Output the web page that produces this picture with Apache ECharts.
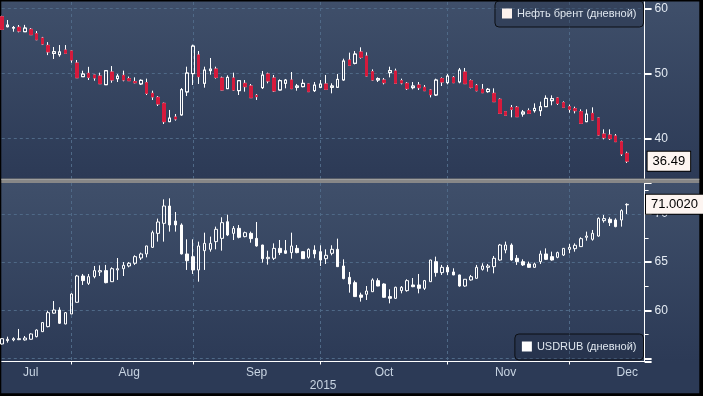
<!DOCTYPE html>
<html>
<head>
<meta charset="utf-8">
<script src="https://cdn.jsdelivr.net/npm/echarts@6/dist/echarts.min.js"></script>
<style>html,body{margin:0;padding:0;background:#000;}#c{width:703px;height:396px;}</style>
</head>
<body>
<div id="c"></div>
<script>
// Trading days (3 empty padding days at the end)
const dates = [
'2015-07-16','2015-07-17','2015-07-20','2015-07-21','2015-07-22','2015-07-23','2015-07-24','2015-07-27','2015-07-28','2015-07-29','2015-07-30','2015-07-31',
'2015-08-03','2015-08-04','2015-08-05','2015-08-06','2015-08-07','2015-08-10','2015-08-11','2015-08-12','2015-08-13','2015-08-14','2015-08-17','2015-08-18','2015-08-19','2015-08-20','2015-08-21','2015-08-24','2015-08-25','2015-08-26','2015-08-27','2015-08-28','2015-08-31',
'2015-09-01','2015-09-02','2015-09-03','2015-09-04','2015-09-07','2015-09-08','2015-09-09','2015-09-10','2015-09-11','2015-09-14','2015-09-15','2015-09-16','2015-09-17','2015-09-18','2015-09-21','2015-09-22','2015-09-23','2015-09-24','2015-09-25','2015-09-28','2015-09-29','2015-09-30',
'2015-10-01','2015-10-02','2015-10-05','2015-10-06','2015-10-07','2015-10-08','2015-10-09','2015-10-12','2015-10-13','2015-10-14','2015-10-15','2015-10-16','2015-10-19','2015-10-20','2015-10-21','2015-10-22','2015-10-23','2015-10-26','2015-10-27','2015-10-28','2015-10-29','2015-10-30',
'2015-11-02','2015-11-03','2015-11-04','2015-11-05','2015-11-06','2015-11-09','2015-11-10','2015-11-11','2015-11-12','2015-11-13','2015-11-16','2015-11-17','2015-11-18','2015-11-19','2015-11-20','2015-11-23','2015-11-24','2015-11-25','2015-11-26','2015-11-27','2015-11-30',
'2015-12-01','2015-12-02','2015-12-03','2015-12-04','2015-12-07','2015-12-08','2015-12-09','2015-12-10','2015-12-11','2015-12-14','2015-12-15',
'2015-12-16','2015-12-17','2015-12-18'
];
const tickLabels = ['Jul','Aug','Sep','Oct','Nov','Dec'];
const tickLabelDates = ['2015-07-23','2015-08-17','2015-09-16','2015-10-16','2015-11-16','2015-12-15'];
const yearLabel = '2015';

const brentName = 'Нефть брент (дневной)';
const rubName = 'USDRUB (дневной)';

const brentOpen = [58.71,57.17,56.95,57.08,56.40,56.77,56.10,55.43,54.30,53.05,
52.86,53.58,53.43,51.58,49.48,50.00,49.74,49.58,48.25,50.20,
49.17,49.69,49.18,48.72,48.36,48.56,46.92,46.30,45.38,42.56,
43.28,43.59,47.13,49.95,52.82,48.46,50.41,50.66,49.28,47.64,
49.28,47.33,48.46,48.05,46.61,47.79,49.90,49.28,47.43,48.46,
48.97,47.85,47.95,48.36,47.33,47.85,48.36,47.85,47.85,48.97,
52.05,51.54,53.28,52.66,50.25,48.97,48.97,50.10,50.36,48.87,
48.46,47.79,48.20,47.85,47.43,46.66,49.18,48.56,49.38,48.66,
50.20,48.87,48.15,47.54,47.18,46.92,46.00,44.10,44.72,44.77,
43.74,44.25,44.25,44.25,44.87,45.79,46.20,45.49,44.87,44.56,
44.10,42.56,43.84,43.13,40.66,40.51,40.36,39.49,37.69];
const brentHigh = [58.85,58.20,57.28,57.43,57.45,56.97,56.50,55.60,54.80,54.05,
54.35,54.35,53.45,52.05,50.40,51.00,49.76,50.10,50.50,51.12,
49.90,50.41,49.50,49.38,49.07,49.18,47.33,46.51,45.49,44.36,
43.74,47.74,51.02,54.41,53.43,51.02,52.36,51.02,49.49,49.69,
50.10,48.97,48.97,48.36,46.82,50.36,50.10,49.74,49.07,49.13,
50.20,48.36,49.07,48.40,48.66,48.97,49.74,48.46,49.90,52.25,
53.18,53.43,54.00,53.23,50.61,49.38,49.28,51.02,50.72,49.18,
48.66,48.66,48.66,48.20,47.54,49.18,49.38,49.90,49.59,50.82,
50.82,49.07,48.36,48.36,47.74,47.69,46.15,44.15,45.13,44.97,
44.36,44.61,45.38,45.64,46.61,46.61,46.30,45.69,45.18,44.87,
44.46,44.46,44.77,43.20,41.38,41.38,40.66,39.64,37.95];
const brentLow = [56.70,57.08,56.40,56.30,56.40,55.90,55.10,54.35,52.80,52.20,
52.55,53.00,51.63,49.32,49.45,48.97,48.86,48.40,48.20,48.55,
48.66,48.77,48.82,48.46,48.20,46.66,45.90,44.97,42.20,42.50,
42.72,43.50,46.51,48.20,48.36,47.79,49.79,49.18,47.40,47.60,
47.33,46.66,47.18,46.20,45.90,47.59,48.46,47.13,47.40,47.69,
47.60,47.33,47.85,47.15,47.13,47.80,47.50,46.92,47.80,48.87,
51.20,51.38,52.25,49.55,48.87,48.66,48.30,49.38,48.40,48.30,
47.43,47.54,47.43,47.30,46.30,46.51,48.05,48.30,48.50,48.46,
48.40,47.69,47.23,47.00,47.02,45.60,43.74,43.43,43.23,43.30,
43.33,43.80,43.95,43.43,44.85,45.08,45.13,44.66,43.95,43.84,
42.30,42.50,42.80,40.45,39.84,39.74,39.45,37.28,36.20];
const brentClose = [56.76,57.43,57.05,56.50,56.97,55.94,55.17,54.50,53.30,53.32,
53.30,53.07,52.05,49.32,49.90,49.38,49.28,48.40,50.40,48.97,
49.58,48.97,48.87,48.56,48.92,46.92,46.36,45.28,42.56,43.13,
42.97,47.49,50.05,54.20,49.49,50.51,50.66,49.38,47.43,49.38,
47.43,48.87,47.95,46.25,46.41,49.74,48.82,47.28,48.87,48.97,
47.64,48.05,48.46,47.18,48.20,48.36,47.54,48.05,49.07,51.90,
51.23,52.97,52.46,49.59,48.97,49.18,48.56,50.41,48.46,48.51,
47.64,48.05,47.79,47.33,46.72,48.97,48.66,49.59,48.56,50.51,
48.41,47.85,47.33,47.02,47.54,45.64,43.84,43.54,44.46,43.33,
44.05,43.84,44.61,44.87,46.15,46.10,45.38,44.77,44.46,44.25,
42.31,43.74,42.82,40.51,40.10,39.95,39.49,37.59,36.49];

const rubOpen = [56.50,56.85,56.92,56.95,56.92,56.99,57.26,57.78,58.30,59.70,
60.03,58.58,59.62,60.83,63.56,62.80,63.49,63.98,64.12,62.97,
64.19,64.32,64.60,64.88,65.43,65.85,66.54,67.99,69.03,70.83,
69.27,68.86,65.85,65.57,64.19,66.19,66.33,67.13,67.47,69.20,
67.99,68.51,67.65,67.99,67.47,66.78,65.36,65.40,66.43,66.19,
65.99,66.43,66.09,65.50,66.26,66.09,65.36,65.92,66.33,64.60,
63.42,62.87,61.59,61.66,61.93,63.08,62.73,61.42,61.24,62.04,
62.04,62.63,62.63,62.28,62.97,65.05,63.91,64.46,63.98,63.67,
62.52,63.15,63.32,64.25,64.46,64.53,65.22,66.26,66.78,65.40,
65.05,64.81,64.46,65.05,65.85,65.57,65.50,65.74,66.33,66.40,
66.61,67.58,67.37,67.71,69.31,69.45,69.38,69.38,70.95];
const rubHigh = [57.10,57.26,57.19,58.06,57.33,57.60,58.02,58.75,59.96,60.96,
60.31,59.82,61.76,63.67,63.77,63.77,64.60,64.67,64.71,64.46,
65.43,65.01,65.01,65.71,65.99,66.70,68.27,69.52,71.52,71.63,
70.21,69.03,67.37,67.37,67.13,68.06,67.65,68.69,69.66,69.93,
68.75,68.86,68.17,68.17,69.17,66.80,66.19,66.95,67.30,67.30,
68.06,66.78,66.12,66.43,66.75,66.75,66.33,66.75,67.44,65.29,
63.98,63.08,61.83,62.52,63.32,63.32,62.80,62.18,62.45,62.52,
63.22,63.35,63.77,63.15,65.25,65.57,64.71,64.71,64.36,63.70,
63.25,63.67,64.71,64.88,64.81,65.64,66.89,67.13,66.95,65.74,
65.29,65.05,64.95,66.19,66.43,66.09,66.09,66.46,66.89,66.95,
67.58,68.17,68.34,69.66,69.90,69.66,69.55,70.49,71.11];
const rubLow = [56.45,56.64,56.78,56.90,56.85,56.95,57.19,57.75,58.23,59.65,
58.58,58.55,59.60,60.80,62.63,62.63,63.32,63.56,62.80,62.95,
63.15,63.56,64.46,64.71,65.22,65.50,66.47,67.13,67.13,68.17,
68.17,65.80,64.19,63.77,62.97,64.19,66.09,66.33,66.19,67.71,
67.30,67.47,67.58,67.02,66.61,64.95,64.74,65.22,65.74,65.85,
65.36,65.92,65.33,65.36,65.40,64.60,64.81,65.71,64.50,63.22,
61.83,61.40,60.90,61.07,61.90,62.50,61.30,60.72,61.20,61.76,
61.93,62.40,61.76,62.11,62.95,63.49,63.67,63.67,63.65,62.45,
62.45,63.08,63.29,64.12,64.01,63.84,65.15,65.92,65.15,64.71,
64.60,64.43,64.43,64.81,65.22,65.15,65.40,65.64,65.92,66.09,
66.58,67.23,67.23,67.65,69.10,68.75,68.62,68.69,70.00];
const rubClose = [57.05,56.99,57.05,57.05,57.12,57.54,57.95,58.72,59.75,60.03,
58.65,59.75,61.69,63.56,63.08,63.49,64.12,64.12,62.87,64.32,
64.32,64.67,64.88,65.57,65.85,66.68,68.06,69.17,70.83,68.86,
68.86,65.85,65.15,64.19,66.68,66.95,66.95,68.41,69.10,67.82,
68.51,67.58,68.06,67.44,66.68,65.36,65.50,66.43,65.99,65.92,
66.68,65.99,65.36,66.33,65.85,65.22,65.71,66.33,64.53,63.29,
62.73,61.42,61.35,62.00,63.15,62.52,61.35,61.24,62.39,62.39,
63.08,62.45,62.28,63.08,65.22,63.91,64.46,63.98,63.67,62.52,
63.22,63.49,64.46,64.60,64.60,65.40,66.78,66.78,65.22,65.05,
64.71,64.46,64.81,65.85,65.29,65.22,65.99,66.43,66.54,66.75,
67.44,67.71,67.99,69.55,69.52,69.10,68.69,70.35,71.002];

// ---- build library data ----
const brentData = brentOpen.map((o, i) => [o, brentClose[i], brentLow[i], brentHigh[i]]);
const brentBodies = brentOpen.map((o, i) => [o, brentClose[i], Math.min(o, brentClose[i]), Math.max(o, brentClose[i])]);
const rubData = rubOpen.map((o, i) => [o, rubClose[i], rubLow[i], rubHigh[i]]);
const brentLast = brentClose[brentClose.length - 1];
const rubLast = rubClose[rubClose.length - 1];

const monthStart = new Set();
for (let i = 1; i < dates.length; i++) {
  if (dates[i].slice(0, 7) !== dates[i - 1].slice(0, 7)) monthStart.add(i);
}
const isMonthStart = (idx) => monthStart.has(idx);

const FONT = 'Liberation Sans, Arial, sans-serif';
const gridLine = { color: '#4f6987', type: [3, 3], width: 1 };
const RED = '#d61a3c';
const bgGrad = (a, b, stop) => ({
  type: 'linear', x: 0, y: 0, x2: 0, y2: 1,
  colorStops: [{ offset: 0, color: a }, { offset: stop, color: b }, { offset: 1, color: b }]
});

const legendBase = {
  orient: 'horizontal', right: 59.5, padding: [7, 7, 8, 7], itemWidth: 10, itemHeight: 10,
  selectedMode: false, backgroundColor: 'rgba(25,33,50,0.25)', borderColor: '#0c0f14',
  borderWidth: 1, borderRadius: 4,
  textStyle: { color: '#dfe6ee', fontSize: 11, fontFamily: FONT }
};

const pointerLabel = (digits) => ({
  show: true, margin: 3, backgroundColor: '#fdf5f1', color: '#000', borderColor: '#000',
  borderWidth: 1, borderRadius: 0, padding: [3, 5, 3, 5], fontSize: 13, fontFamily: FONT,
  formatter: (p) => Number(p.value).toFixed(digits)
});

const chart = echarts.init(document.getElementById('c'));
chart.setOption({
  backgroundColor: '#000',
  animation: false,
  textStyle: { fontFamily: FONT },
  graphic: [
    { type: 'rect', z: -100, silent: true, shape: { x: 1.3, y: 1.5, width: 698, height: 177.2 },
      style: { fill: bgGrad('#3f4f6a', '#2c3a56', 1) } },
    { type: 'rect', z: -100, silent: true, shape: { x: 1.3, y: 183, width: 698, height: 210.3 },
      style: { fill: bgGrad('#3f4f6a', '#2c3a56', 0.85) } },
    { type: 'rect', z: 100, silent: true, shape: { x: 1.3, y: 178.7, width: 698, height: 4.3 },
      style: { fill: '#878787' } },
    { type: 'rect', z: 101, silent: true, shape: { x: 1.3, y: 178.7, width: 698, height: 1 },
      style: { fill: '#a6a6a6' } }
  ],
  grid: [
    { left: 1.8, right: 58.4, top: 2, height: 176.5 },
    { left: 1.8, right: 58.4, top: 183, height: 178.5 }
  ],
  legend: [
    Object.assign({}, legendBase, { top: 1,
      data: [{ name: brentName, icon: 'rect', itemStyle: { color: '#fcf2ee', borderWidth: 0 } }] }),
    Object.assign({}, legendBase, { top: 334,
      data: [{ name: rubName, icon: 'rect', itemStyle: { color: '#ffffff', borderWidth: 0 } }] })
  ],
  xAxis: [
    { gridIndex: 0, type: 'category', data: dates, boundaryGap: false,
      axisLine: { show: false }, axisTick: { show: false }, axisLabel: { show: false },
      splitLine: { show: true, interval: isMonthStart, lineStyle: gridLine } },
    { gridIndex: 1, type: 'category', data: dates, boundaryGap: false,
      axisLine: { show: true, lineStyle: { color: '#ffffff', width: 1 } },
      axisTick: { show: true, interval: isMonthStart, length: 3, lineStyle: { color: '#ffffff' } },
      axisLabel: { show: true, interval: (idx, val) => tickLabelDates.indexOf(val) >= 0,
        formatter: (val) => tickLabels[tickLabelDates.indexOf(val)] || '',
        color: '#c8d4e2', fontSize: 12, margin: 5, fontFamily: FONT },
      splitLine: { show: true, interval: isMonthStart, lineStyle: gridLine },
      name: yearLabel, nameLocation: 'middle', nameGap: 18,
      nameTextStyle: { color: '#c8d4e2', fontSize: 12, fontFamily: FONT, verticalAlign: 'top' } }
  ],
  yAxis: [
    { gridIndex: 0, type: 'value', position: 'right', min: 33.82, max: 60.97, splitNumber: 3,
      axisLine: { show: true, lineStyle: { color: '#ffffff', width: 1 } },
      axisTick: { show: true, length: 7, lineStyle: { color: '#ffffff', width: 2 } },
      axisLabel: { show: true, showMinLabel: false, showMaxLabel: false, margin: 10,
        color: '#e4ebf3', fontSize: 12, fontFamily: FONT,
        formatter: (v) => (Math.abs(v % 10) < 1e-6 ? String(v) : '') },
      splitLine: { show: true, showMinLine: false, showMaxLine: false, lineStyle: gridLine },
      axisPointer: { show: true, type: 'none', status: 'show', value: brentLast,
        triggerTooltip: false, label: pointerLabel(2) } },
    { gridIndex: 1, type: 'value', position: 'right', min: 54.68, max: 73.22, splitNumber: 4,
      axisLine: { show: true, lineStyle: { color: '#ffffff', width: 1 } },
      axisTick: { show: true, length: 7, lineStyle: { color: '#ffffff', width: 2 } },
      minorTick: { show: true, splitNumber: 2, length: 4, lineStyle: { color: '#ffffff', width: 1 } },
      axisLabel: { show: true, showMinLabel: false, showMaxLabel: false, margin: 10,
        color: '#e4ebf3', fontSize: 12, fontFamily: FONT,
        formatter: (v) => (v >= 60 && Math.abs(v % 5) < 1e-6 ? String(v) : '') },
      splitLine: { show: true, showMinLine: false, showMaxLine: false, lineStyle: gridLine },
      axisPointer: { show: true, type: 'none', status: 'show', value: rubLast,
        triggerTooltip: false, label: pointerLabel(4) } }
  ],
  series: [
    { name: brentName, type: 'candlestick', xAxisIndex: 0, yAxisIndex: 0, data: brentData, barWidth: 3,
      itemStyle: { color: 'rgba(0,0,0,0)', color0: RED, borderColor: '#ffffff', borderColor0: '#ffffff', borderWidth: 1 } },
    { name: 'brent-body', type: 'candlestick', xAxisIndex: 0, yAxisIndex: 0, data: brentBodies, barWidth: 3,
      itemStyle: { color: 'rgba(0,0,0,0)', color0: RED, borderColor: '#ffffff', borderColor0: RED, borderWidth: 1 } },
    { name: rubName, type: 'candlestick', xAxisIndex: 1, yAxisIndex: 1, data: rubData, barWidth: 3,
      itemStyle: { color: 'rgba(0,0,0,0)', color0: '#ffffff', borderColor: '#ffffff', borderColor0: '#ffffff', borderWidth: 1 } }
  ]
});
</script>
</body>
</html>
